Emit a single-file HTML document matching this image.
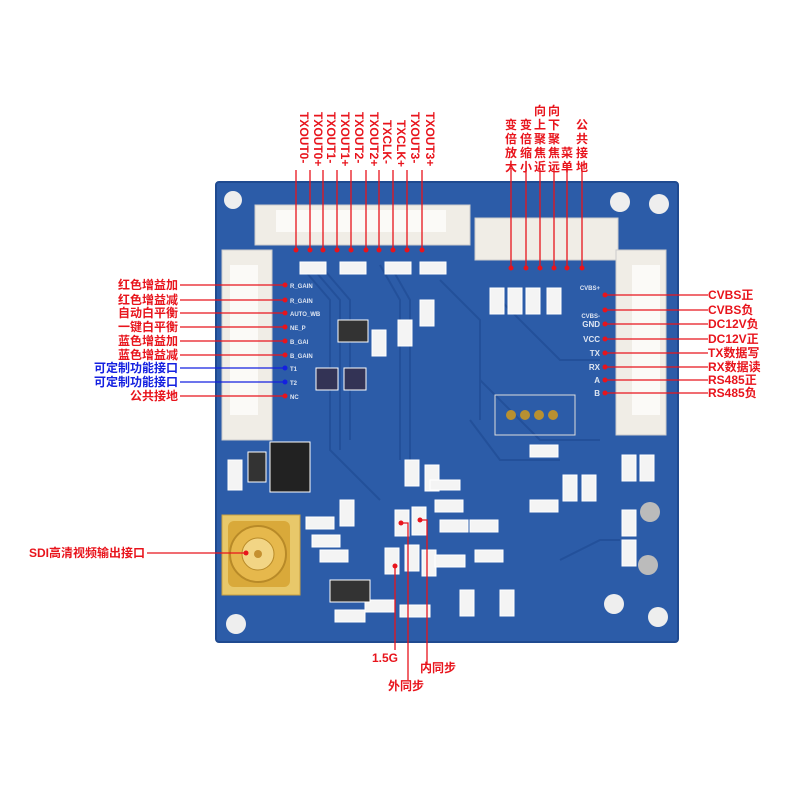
<!DOCTYPE html>
<html><head><meta charset="utf-8"><style>
body{margin:0;background:#fff}
svg{display:block}
text{font-family:"Liberation Sans","Noto Sans CJK SC",sans-serif;font-weight:bold}
</style></head><body>
<svg width="800" height="800" viewBox="0 0 800 800" xmlns="http://www.w3.org/2000/svg">
<rect x="216" y="182" width="462" height="460" rx="3" fill="#2c5ca8"/>
<rect x="216" y="182" width="462" height="460" rx="3" fill="none" stroke="#1f4a90" stroke-width="2"/>
<g stroke="#23509a" stroke-width="2" fill="none">
<path d="M300 265 L330 300 L330 450 L380 500"/><path d="M310 265 L340 300 L340 450"/>
<path d="M320 265 L350 300 L350 440"/><path d="M380 265 L400 300 L400 460"/>
<path d="M390 265 L410 300 L410 460"/><path d="M500 300 L560 360 L600 360"/>
<path d="M480 380 L540 440 L600 440"/><path d="M470 420 L500 460 L560 460"/>
<path d="M440 280 L480 320 L480 420"/><path d="M560 560 L600 540 L620 540"/>
</g>
<rect x="495" y="395" width="80" height="40" fill="none" stroke="#ddd" stroke-width="1"/>
<circle cx="511" cy="415" r="5" fill="#b89030"/><circle cx="525" cy="415" r="5" fill="#b89030"/><circle cx="539" cy="415" r="5" fill="#b89030"/><circle cx="553" cy="415" r="5" fill="#b89030"/>
<circle cx="233" cy="200" r="9" fill="#eee"/><circle cx="620" cy="202" r="10" fill="#eee"/><circle cx="659" cy="204" r="10" fill="#eee"/>
<circle cx="236" cy="624" r="10" fill="#eee"/><circle cx="614" cy="604" r="10" fill="#eee"/><circle cx="658" cy="617" r="10" fill="#eee"/>
<rect x="255" y="205" width="215" height="40" fill="#f0ede6" stroke="#ccc"/>
<rect x="276" y="210" width="170" height="22" fill="#fbfaf7"/>
<rect x="475" y="218" width="143" height="42" fill="#f0ede6" stroke="#ccc"/>
<rect x="222" y="250" width="50" height="190" fill="#f0ede6" stroke="#ccc"/>
<rect x="230" y="265" width="28" height="150" fill="#fbfaf7"/>
<rect x="616" y="250" width="50" height="185" fill="#f0ede6" stroke="#ccc"/>
<rect x="632" y="265" width="28" height="150" fill="#fbfaf7"/>
<g fill="#f4f4f4" stroke="#fff">
<rect x="300" y="262" width="26" height="12"/><rect x="340" y="262" width="26" height="12"/><rect x="385" y="262" width="26" height="12"/><rect x="420" y="262" width="26" height="12"/>
<rect x="338" y="320" width="30" height="22" fill="#333"/><rect x="372" y="330" width="14" height="26"/><rect x="398" y="320" width="14" height="26"/><rect x="420" y="300" width="14" height="26"/>
<rect x="316" y="368" width="22" height="22" fill="#335"/><rect x="344" y="368" width="22" height="22" fill="#335"/>
<rect x="490" y="288" width="14" height="26"/><rect x="508" y="288" width="14" height="26"/><rect x="526" y="288" width="14" height="26"/><rect x="547" y="288" width="14" height="26"/>
<rect x="270" y="442" width="40" height="50" fill="#222"/><rect x="228" y="460" width="14" height="30"/><rect x="248" y="452" width="18" height="30" fill="#333"/>
<rect x="530" y="445" width="28" height="12"/><rect x="530" y="500" width="28" height="12"/><rect x="563" y="475" width="14" height="26"/><rect x="582" y="475" width="14" height="26"/>
<rect x="622" y="455" width="14" height="26"/><rect x="640" y="455" width="14" height="26"/><rect x="622" y="510" width="14" height="26"/><rect x="622" y="540" width="14" height="26"/>
<rect x="405" y="460" width="14" height="26"/><rect x="425" y="465" width="14" height="26"/><rect x="430" y="480" width="30" height="10"/>
<rect x="395" y="510" width="14" height="26"/><rect x="412" y="507" width="14" height="28"/><rect x="435" y="500" width="28" height="12"/><rect x="440" y="520" width="28" height="12"/>
<rect x="306" y="517" width="28" height="12"/><rect x="312" y="535" width="28" height="12"/><rect x="320" y="550" width="28" height="12"/><rect x="340" y="500" width="14" height="26"/>
<rect x="385" y="548" width="14" height="26"/><rect x="405" y="545" width="14" height="26"/><rect x="422" y="550" width="14" height="26"/><rect x="435" y="555" width="30" height="12"/>
<rect x="365" y="600" width="30" height="12"/><rect x="400" y="605" width="30" height="12"/><rect x="335" y="610" width="30" height="12"/><rect x="460" y="590" width="14" height="26"/>
<rect x="330" y="580" width="40" height="22" fill="#333"/><rect x="470" y="520" width="28" height="12"/><rect x="475" y="550" width="28" height="12"/><rect x="500" y="590" width="14" height="26"/>
</g>
<circle cx="650" cy="512" r="10" fill="#bbb"/><circle cx="648" cy="565" r="10" fill="#bbb"/>
<rect x="222" y="515" width="78" height="80" fill="#e8c86a" stroke="#c9a040"/>
<rect x="228" y="521" width="62" height="66" rx="6" fill="#d9a93a"/>
<circle cx="258" cy="554" r="28" fill="#e6b84c" stroke="#b88a28" stroke-width="2"/>
<circle cx="258" cy="554" r="16" fill="#f2d585" stroke="#b88a28"/>
<circle cx="258" cy="554" r="4" fill="#c59030"/>
<g stroke="#e8141c" stroke-width="1.3" fill="none">
<path d="M296 170V250M310 170V250M323 170V250M337 170V250M351 170V250M366 170V250M379 170V250M393 170V250M407 170V250M422 170V250"/>
<path d="M511 168V268M526 168V268M540 168V268M554 168V268M567 168V268M582 168V268"/>
<path d="M180 285H285M180 300H285M180 313H285M180 327H285M180 341H285M180 355H285M180 396H285"/>
<path d="M605 295H708M605 310H708M605 324H708M605 339H708M605 353H708M605 367H708M605 380H708M605 393H708"/>
<path d="M147 553H246"/>
<path d="M395 566V650M401 523H408V680M420 520H427V665"/>
</g>
<g stroke="#1420e0" stroke-width="1.3"><path d="M180 368H285M180 382H285"/></g>
<g fill="#e8141c">
<circle cx="296" cy="250" r="2.5"/><circle cx="310" cy="250" r="2.5"/><circle cx="323" cy="250" r="2.5"/><circle cx="337" cy="250" r="2.5"/><circle cx="351" cy="250" r="2.5"/><circle cx="366" cy="250" r="2.5"/><circle cx="379" cy="250" r="2.5"/><circle cx="393" cy="250" r="2.5"/><circle cx="407" cy="250" r="2.5"/><circle cx="422" cy="250" r="2.5"/>
<circle cx="511" cy="268" r="2.5"/><circle cx="526" cy="268" r="2.5"/><circle cx="540" cy="268" r="2.5"/><circle cx="554" cy="268" r="2.5"/><circle cx="567" cy="268" r="2.5"/><circle cx="582" cy="268" r="2.5"/>
<circle cx="285" cy="285" r="2.5"/><circle cx="285" cy="300" r="2.5"/><circle cx="285" cy="313" r="2.5"/><circle cx="285" cy="327" r="2.5"/><circle cx="285" cy="341" r="2.5"/><circle cx="285" cy="355" r="2.5"/><circle cx="285" cy="396" r="2.5"/>
<circle cx="605" cy="295" r="2.5"/><circle cx="605" cy="310" r="2.5"/><circle cx="605" cy="324" r="2.5"/><circle cx="605" cy="339" r="2.5"/><circle cx="605" cy="353" r="2.5"/><circle cx="605" cy="367" r="2.5"/><circle cx="605" cy="380" r="2.5"/><circle cx="605" cy="393" r="2.5"/>
<circle cx="246" cy="553" r="2.5"/><circle cx="395" cy="566" r="2.5"/><circle cx="401" cy="523" r="2.5"/><circle cx="420" cy="520" r="2.5"/>
</g>
<g fill="#1420e0"><circle cx="285" cy="368" r="2.5"/><circle cx="285" cy="382" r="2.5"/></g>
<g fill="#e8141c" font-size="12">
<text transform="translate(300,112) rotate(90)">TXOUT0-</text>
<text transform="translate(314,112) rotate(90)">TXOUT0+</text>
<text transform="translate(327,112) rotate(90)">TXOUT1-</text>
<text transform="translate(341,112) rotate(90)">TXOUT1+</text>
<text transform="translate(355,112) rotate(90)">TXOUT2-</text>
<text transform="translate(370,112) rotate(90)">TXOUT2+</text>
<text transform="translate(383,120) rotate(90)">TXCLK-</text>
<text transform="translate(397,120) rotate(90)">TXCLK+</text>
<text transform="translate(411,112) rotate(90)">TXOUT3-</text>
<text transform="translate(426,112) rotate(90)">TXOUT3+</text>
</g>
<g fill="#e8141c" font-size="12" text-anchor="middle">
<text x="511" y="129">变</text><text x="511" y="143">倍</text><text x="511" y="157">放</text><text x="511" y="171">大</text>
<text x="526" y="129">变</text><text x="526" y="143">倍</text><text x="526" y="157">缩</text><text x="526" y="171">小</text>
<text x="540" y="115">向</text><text x="540" y="129">上</text><text x="540" y="143">聚</text><text x="540" y="157">焦</text><text x="540" y="171">近</text>
<text x="554" y="115">向</text><text x="554" y="129">下</text><text x="554" y="143">聚</text><text x="554" y="157">焦</text><text x="554" y="171">远</text>
<text x="567" y="157">菜</text><text x="567" y="171">单</text>
<text x="582" y="129">公</text><text x="582" y="143">共</text><text x="582" y="157">接</text><text x="582" y="171">地</text>
</g>
<g fill="#e8141c" text-anchor="end" font-size="12">
<text x="178" y="289">红色增益加</text><text x="178" y="304">红色增益减</text><text x="178" y="317">自动白平衡</text>
<text x="178" y="331">一键白平衡</text><text x="178" y="345">蓝色增益加</text><text x="178" y="359">蓝色增益减</text>
<text x="178" y="400">公共接地</text>
<text x="145" y="557">SDI高清视频输出接口</text>
</g>
<g fill="#1420e0" text-anchor="end" font-size="12"><text x="178" y="372">可定制功能接口</text><text x="178" y="386">可定制功能接口</text></g>
<g fill="#e8141c" font-size="12">
<text x="708" y="299">CVBS正</text><text x="708" y="314">CVBS负</text><text x="708" y="328">DC12V负</text><text x="708" y="343">DC12V正</text>
<text x="708" y="357">TX数据写</text><text x="708" y="371">RX数据读</text><text x="708" y="384">RS485正</text><text x="708" y="397">RS485负</text>
<text x="372" y="662">1.5G</text><text x="388" y="690">外同步</text><text x="420" y="672">内同步</text>
</g>
<g fill="#dfe6f2" font-size="6">
<text x="290" y="288">R_GAIN</text><text x="290" y="303">R_GAIN</text><text x="290" y="316">AUTO_WB</text><text x="290" y="330">NE_P</text><text x="290" y="344">B_GAI</text><text x="290" y="358">B_GAIN</text><text x="290" y="371">T1</text><text x="290" y="385">T2</text><text x="290" y="399">NC</text>
<text x="600" y="290" text-anchor="end">CVBS+</text><text x="600" y="318" text-anchor="end">CVBS-</text><text x="600" y="327" text-anchor="end" font-size="8">GND</text><text x="600" y="342" text-anchor="end" font-size="8">VCC</text><text x="600" y="356" text-anchor="end" font-size="8">TX</text><text x="600" y="370" text-anchor="end" font-size="8">RX</text><text x="600" y="383" text-anchor="end" font-size="8">A</text><text x="600" y="396" text-anchor="end" font-size="8">B</text>
</g>
</svg>
</body></html>
